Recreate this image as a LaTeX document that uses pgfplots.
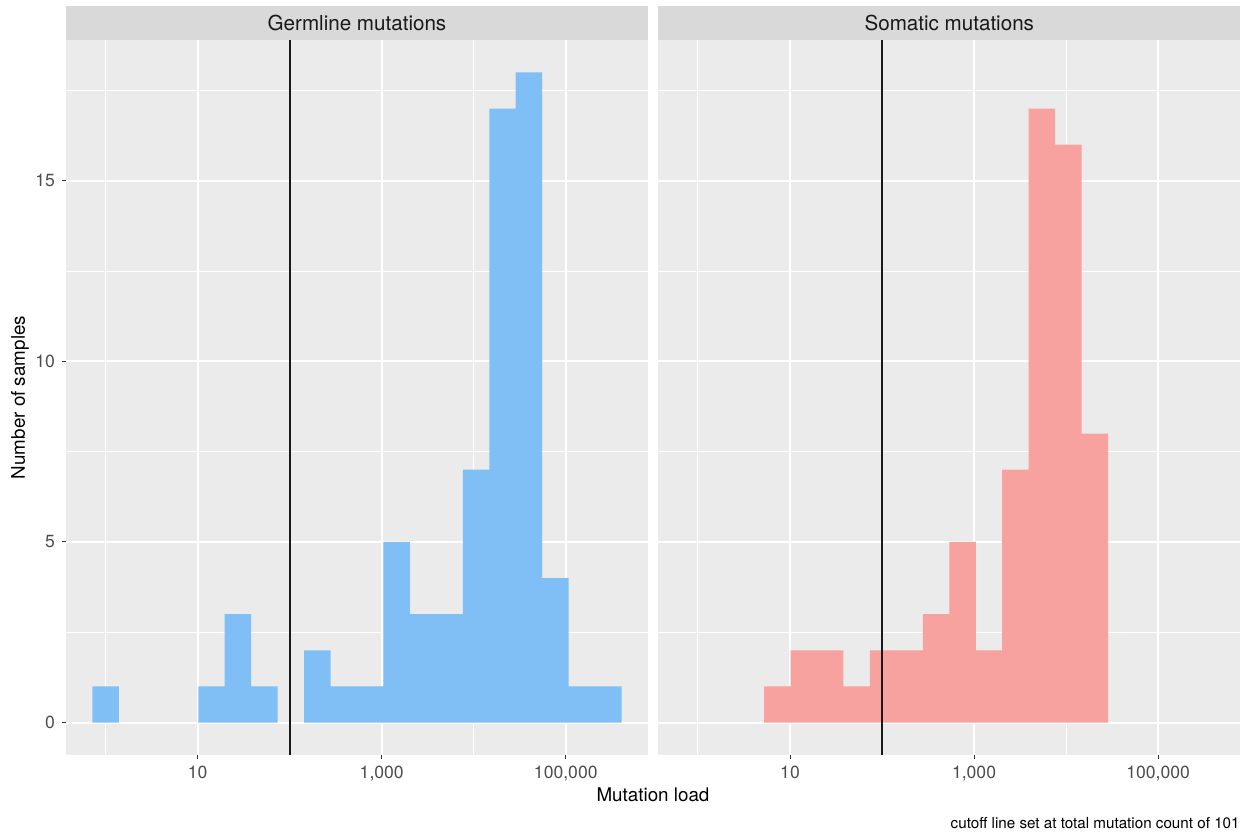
\documentclass[border=0pt]{standalone}
\usepackage{pgfplots}
\pgfplotsset{compat=1.18}
\usepackage{fontspec}
\setmainfont{TeX Gyre Heros}
\definecolor{panelbg}{HTML}{EBEBEB}
\definecolor{stripbg}{HTML}{D9D9D9}
\definecolor{ticklab}{HTML}{4D4D4D}
\definecolor{tickcol}{HTML}{333333}
\definecolor{germ}{HTML}{80BFF5}
\definecolor{soma}{HTML}{F7A29E}
\pgfplotsset{
 panel/.style={
  scale only axis, width=291pt, height=357.5pt,
  xmin=-0.43125, xmax=5.89375, ymin=-0.9, ymax=18.9,
  axis line style={draw=none},
  axis background/.style={fill=panelbg},
  xtick={1,3,5}, xticklabels={10,{1,000},{100,000}},
  minor xtick={0,2,4},
  ytick={0,5,10,15}, yticklabels={0,5,10,15},
  minor ytick={2.5,7.5,12.5,17.5},
  grid=both,
  major grid style={white, line width=1pt},
  minor grid style={white, line width=0.5pt},
  tick align=outside, tick pos=left,
  major tick length=2pt, minor tick length=0pt,
  tick style={tickcol, line width=0.5pt},
  ticklabel style={font=\fontsize{8.8}{10}\selectfont, text=ticklab},
  anchor=north west,
 }
}
\begin{document}
\begin{tikzpicture}
\useasboundingbox (0,0) rectangle (624pt,-416.5pt);
\begin{axis}[panel, name=L, at={(33pt,-20pt)}]
\addplot[ybar, bar width=0.2875, fill=germ, draw=none] coordinates {
(0,1) (1.15,1) (1.4375,3) (1.725,1) (2.3,2) (2.5875,1) (2.875,1)
(3.1625,5) (3.45,3) (3.7375,3) (4.025,7) (4.3125,17) (4.6,18)
(4.8875,4) (5.175,1) (5.4625,1)};
\addplot[black!90, line width=1pt] coordinates {(2.0043,-0.9) (2.0043,18.9)};
\end{axis}
\begin{axis}[panel, name=R, at={(329.15pt,-20pt)}, yticklabels={}, ytick style={draw=none}]
\addplot[ybar, bar width=0.2875, fill=soma, draw=none] coordinates {
(0.8625,1) (1.15,2) (1.4375,2) (1.725,1) (2.0125,2) (2.3,2) (2.5875,3)
(2.875,5) (3.1625,2) (3.45,7) (3.7375,17) (4.025,16) (4.3125,8)};
\addplot[black!90, line width=1pt] coordinates {(2.0043,-0.9) (2.0043,18.9)};
\end{axis}
\fill[stripbg] (L.north west) rectangle ([yshift=17.15pt]L.north east);
\fill[stripbg] (R.north west) rectangle ([yshift=17.15pt]R.north east);
\node[font=\fontsize{10.3}{12}\selectfont, text={black!90}] at ([yshift=8.6pt]L.north) {Germline mutations};
\node[font=\fontsize{10.3}{12}\selectfont, text={black!90}] at ([yshift=8.6pt]R.north) {Somatic mutations};
\node[font=\fontsize{9.4}{11}\selectfont, rotate=90] at (10pt,-198.75pt) {Number of samples};
\node[font=\fontsize{9.4}{11}\selectfont] at (326.5pt,-397.25pt) {Mutation load};
\node[font=\fontsize{7.6}{9}\selectfont, anchor=east, inner sep=0pt] at (620pt,-411.5pt) {cutoff line set at total mutation count of 101};
\end{tikzpicture}
\end{document}
